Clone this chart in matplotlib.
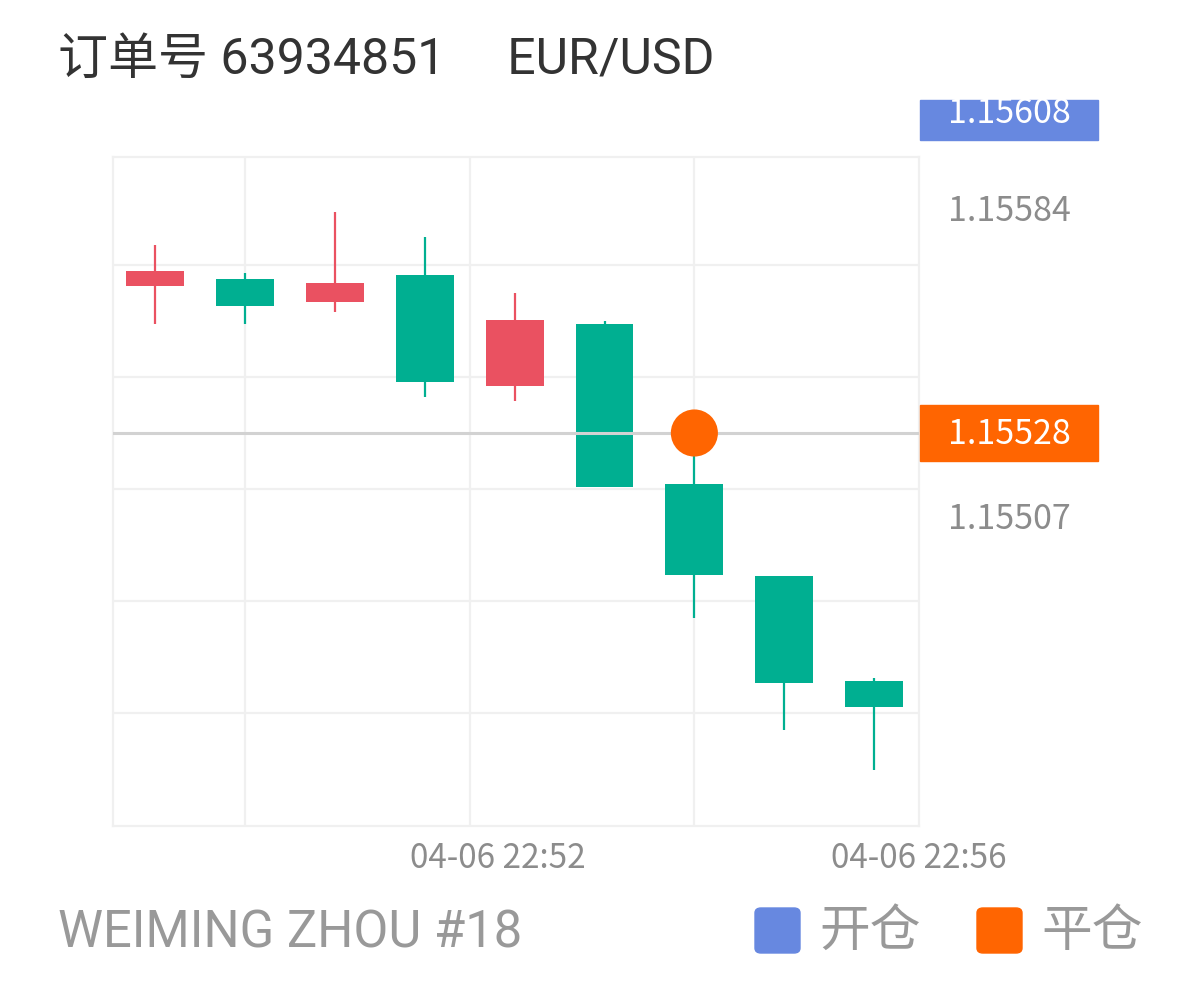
import matplotlib
matplotlib.use('Agg')
import matplotlib.pyplot as plt
from matplotlib.patches import Rectangle, FancyBboxPatch
import matplotlib.transforms as mtransforms

# 数据
opens  = [1.155648, 1.155665, 1.155608, 1.155675, 1.155398, 1.155553, 1.155153, 1.154923, 1.154660]
highs  = [1.155750, 1.155680, 1.155833, 1.155770, 1.155630, 1.155560, 1.155230, 1.154923, 1.154668]
lows   = [1.155553, 1.155553, 1.155583, 1.155370, 1.155360, 1.155145, 1.154818, 1.154538, 1.154438]
closes = [1.155685, 1.155598, 1.155655, 1.155408, 1.155563, 1.155145, 1.154925, 1.154655, 1.154595]
open_price = 1.15608
close_price = 1.15528
close_index = 6
side_labels = [1.15584, 1.15507]
grid_levels = [1.15570, 1.15542, 1.15514, 1.15486, 1.15458]
time_labels = ['04-06 22:52', '04-06 22:56']
time_label_pos = [3.81, 8.5]
title_text = '订单号 63934851     EUR/USD'
footer_text = 'WEIMING ZHOU #18'
legend_labels = ['开仓', '平仓']

up_color = '#EA5161'
down_color = '#00AF91'
open_color = '#6788E0'
close_color = '#FF6501'
grey = '#8C8C8C'

plt.rcParams['font.family'] = ['Roboto', 'Noto Sans CJK SC', 'DejaVu Sans']

fig = plt.figure(figsize=(11.98, 9.9), dpi=100)
ax = fig.add_axes([113 / 1198, 164 / 990, 806 / 1198, 669 / 990])

ymin, ymax = 1.1542975, 1.15597
ax.set_xlim(-0.47, 8.5)
ax.set_ylim(ymin, ymax)

# 网格
for g in grid_levels:
    ax.axhline(g, color='#F0F0F0', lw=1.6, zorder=0)
for xv in [1, 3.5, 6]:
    ax.axvline(xv, color='#F0F0F0', lw=1.6, zorder=0)
for s in ax.spines.values():
    s.set_color('#F0F0F0')
    s.set_linewidth(1.6)
ax.set_xticks([])
ax.set_yticks([])

# K线
for i, (o, h, l, c) in enumerate(zip(opens, highs, lows, closes)):
    col = up_color if c >= o else down_color
    ax.vlines(i, l, h, color=col, lw=1.6, zorder=2)
    ax.bar(i, abs(c - o), bottom=min(o, c), width=0.645, color=col, zorder=3)

# 平仓线和点
ax.axhline(close_price, color='#D2D2D2', lw=2.2, zorder=4)
ax.scatter([close_index], [close_price], s=1150, color=close_color, zorder=5, edgecolors='none')

# 右侧价格标签
tr = mtransforms.blended_transform_factory(ax.transAxes, ax.transData)
px = 1 / 400000  # 每像素价格
box_x0 = (920 - 113) / 806
box_w = (1098 - 920) / 806
text_x = (1009 - 113) / 806
for v in side_labels:
    ax.text(text_x, v - 3 * px, f'{v:.5f}', transform=tr, ha='center', va='center',
            fontsize=24.5, color=grey, family=['Noto Sans CJK SC'])
ax.add_patch(Rectangle((box_x0, close_price - 28 * px), box_w, 56 * px, transform=tr,
                       color=close_color, clip_on=False, zorder=5))
ax.text(text_x, close_price - 2 * px, f'{close_price:.5f}', transform=tr, ha='center', va='center',
        fontsize=24.5, color='white', family=['Noto Sans CJK SC'], zorder=6)
ax.add_patch(Rectangle((box_x0, open_price - 27 * px), box_w, 40 * px,
                       transform=tr, color=open_color, clip_on=False, zorder=5))
ax.text(text_x, open_price - 1 * px, f'{open_price:.5f}', transform=tr, ha='center', va='center',
        fontsize=24.5, color='white', family=['Noto Sans CJK SC'], zorder=6)

# 时间标签
trx = mtransforms.blended_transform_factory(ax.transData, ax.transAxes)
for xv, t in zip(time_label_pos, time_labels):
    ax.text(xv, -0.049, t, transform=trx, ha='center', va='center',
            fontsize=24, color=grey, family=['Noto Sans CJK SC'])

# 标题和底部
fig.text(58 / 1198, 1 - 60 / 990, title_text, ha='left', va='center', fontsize=36, color='#333333')
fig.text(58 / 1198, 1 - 933 / 990, footer_text, ha='left', va='center', fontsize=36.5, color='#999999')

for x0, lab, col in [(755, legend_labels[0], open_color), (977, legend_labels[1], close_color)]:
    fig.patches.append(FancyBboxPatch((x0 / 1198, 1 - 953 / 990), 45 / 1198, 45 / 990,
                                      boxstyle='round,pad=0,rounding_size=0.005',
                                      transform=fig.transFigure, color=col))
    fig.text((x0 + 64) / 1198, 1 - 932 / 990, lab, ha='left', va='center', fontsize=36.5,
             color='#999999', family=['Noto Sans CJK SC'])

fig.savefig('out.png', dpi=100, facecolor='white')
